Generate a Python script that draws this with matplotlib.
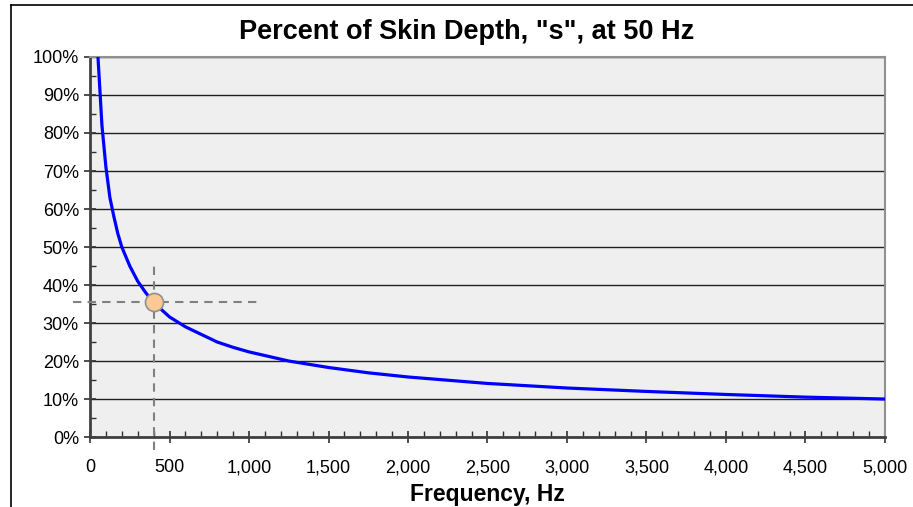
import matplotlib
matplotlib.use("Agg")
import matplotlib.pyplot as plt
from matplotlib.lines import Line2D
from matplotlib.ticker import MultipleLocator, FuncFormatter

# frequency (Hz) vs percent of the 50 Hz skin depth
freq_hz = [50, 75, 100, 125, 150, 175, 200, 250, 300, 350, 400, 450, 500, 600, 700,
           800, 900, 1000, 1250, 1500, 1750, 2000, 2500, 3000, 3500, 4000, 4500, 5000]
pct_depth = [1.00, 0.82, 0.71, 0.63, 0.58, 0.535, 0.50, 0.45, 0.41, 0.38, 0.354, 0.335,
             0.316, 0.29, 0.27, 0.25, 0.236, 0.224, 0.20, 0.183, 0.169, 0.158, 0.141,
             0.129, 0.12, 0.112, 0.105, 0.10]
mark_f = 400
mark_pct = 0.354

plt.rcParams["font.family"] = ["Liberation Sans", "DejaVu Sans"]

fig = plt.figure(figsize=(9.13, 5.07), dpi=100)
ax = fig.add_axes([0.0986, 0.138, 0.8707, 0.7496])
ax.set_facecolor("#efefef")

# outer chart border (left and top visible)
fig.add_artist(Line2D([0.012, 0.012], [0, 0.99], transform=fig.transFigure, color="black", lw=1.2))
fig.add_artist(Line2D([0.012, 1.0], [0.99, 0.99], transform=fig.transFigure, color="black", lw=1.2))

ax.plot(freq_hz, pct_depth, color="#0000ff", lw=2.3, zorder=3)

# guide lines to the 400 Hz point
ax.plot([-107, 1050], [mark_pct, mark_pct], ls=(0, (4, 3)), color="#808080", lw=1.5,
        clip_on=False, zorder=4)
ax.plot([mark_f, mark_f], [-0.034, 0.46], ls=(0, (4, 3)), color="#808080", lw=1.5,
        clip_on=False, zorder=4)
ax.plot([mark_f], [mark_pct], "o", ms=13, mfc="#fcc894", mec="#909090", mew=1.2, zorder=5)

ax.set_xlim(0, 5000)
ax.set_ylim(0, 1.0)
ax.xaxis.set_major_locator(MultipleLocator(500))
ax.xaxis.set_minor_locator(MultipleLocator(100))
ax.yaxis.set_major_locator(MultipleLocator(0.1))
ax.yaxis.set_minor_locator(MultipleLocator(0.05))
ax.xaxis.set_major_formatter(FuncFormatter(lambda v, p: f"{v:,.0f}"))
ax.yaxis.set_major_formatter(FuncFormatter(lambda v, p: f"{v * 100:.0f}%"))
ax.tick_params(which="major", direction="inout", length=8, width=1.2, color="#303030",
               labelsize=13, pad=4)
ax.tick_params(which="minor", direction="in", length=4, width=1.0, color="#303030")
ax.tick_params(axis="x", pad=12)

ax.grid(axis="y", which="major", color="#202020", lw=1.0)
ax.set_axisbelow(True)
for s in ["left", "bottom"]:
    ax.spines[s].set_color("#404040")
    ax.spines[s].set_linewidth(2.0)
for s in ["top", "right"]:
    ax.spines[s].set_color("#909090")
    ax.spines[s].set_linewidth(1.5)

ax.set_xlabel("Frequency, Hz", fontsize=16.5, fontweight="bold", labelpad=5)
fig.text(0.511, 0.937, 'Percent of Skin Depth, "s", at 50 Hz', ha="center", va="center",
         fontsize=19.5, fontweight="bold")

fig.savefig("out.png", dpi=100)
